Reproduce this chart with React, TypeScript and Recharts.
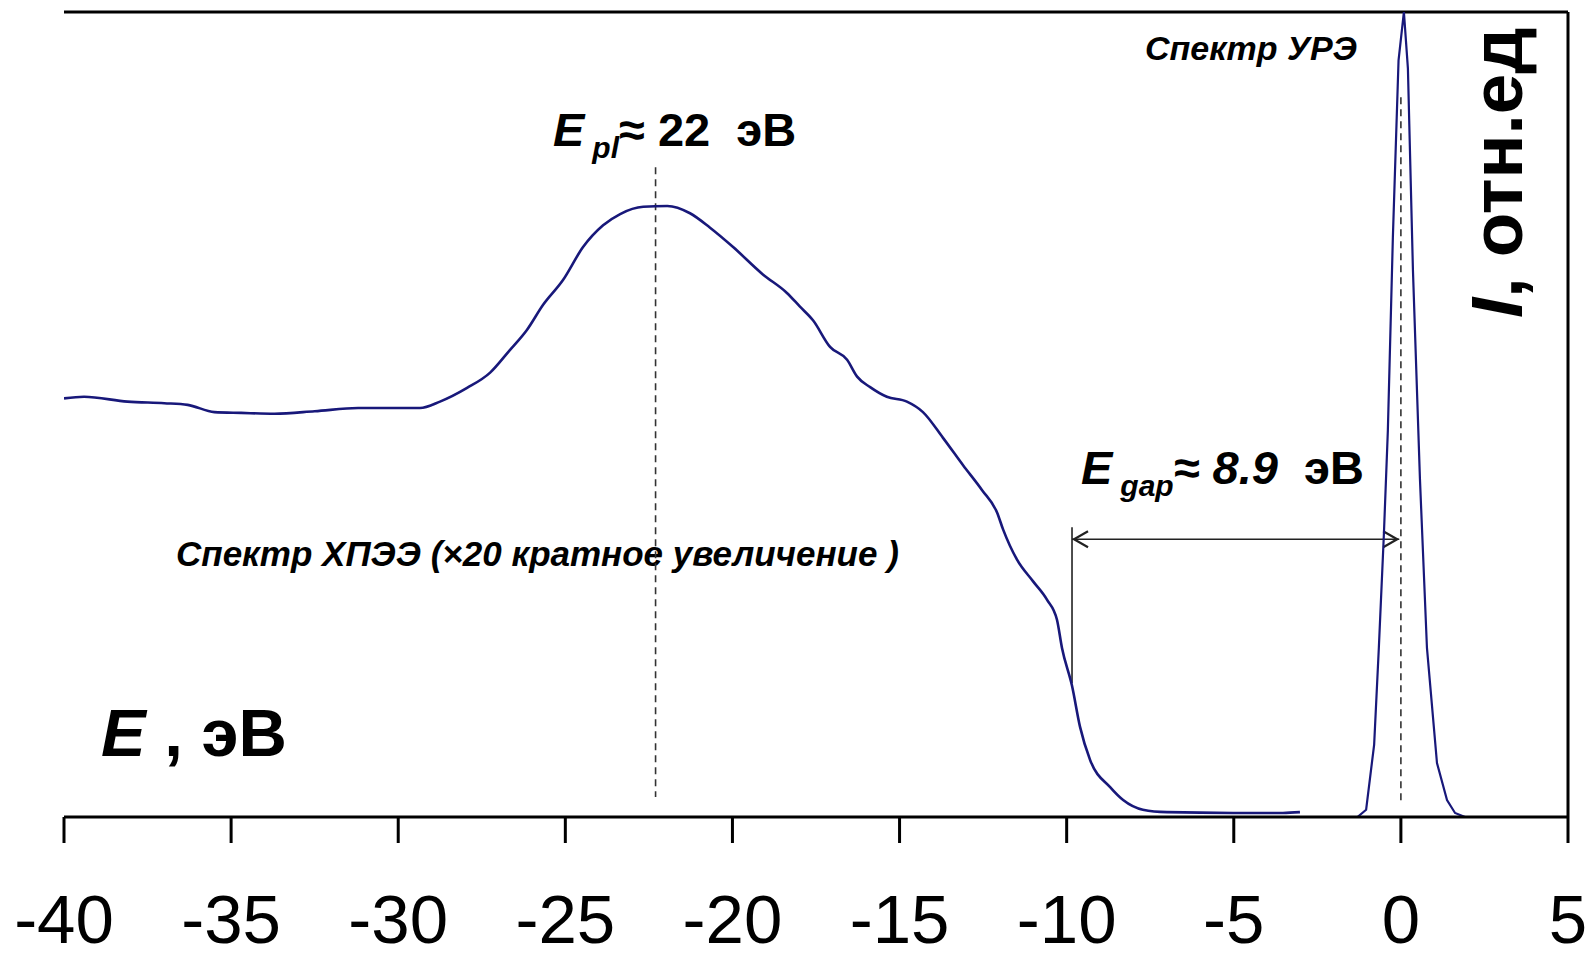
import { LineChart, Line, XAxis, YAxis, ReferenceLine } from 'recharts';

// HREELS spectrum (x20), energy in eV vs relative intensity
const hreelsE = [
  -40, -39.4, -38.1, -37.0, -36.3, -35.5, -34.7, -33.7, -32.5, -31.2, -29.95, -29.35, -28.75,
  -27.94, -27.25, -26.66, -26.15, -25.67, -25.07, -24.47, -23.87, -23.36, -22.67, -21.95, -21.27,
  -20.67, -19.98, -19.09, -18.37, -17.98, -17.59, -17.08, -16.57, -16.27, -15.88, -15.38, -14.78,
  -14.3, -13.7, -13.1, -12.53, -12.08, -11.9, -11.49, -11.01, -10.59, -10.29, -10.14, -9.84, -9.6,
  -9.3, -8.7, -8.31, -7.72, -7.0, -5.02, -3.53, -3.02,
];
const hreelsI = [
  52.0, 52.2, 51.6, 51.4, 51.2, 50.3, 50.2, 50.1, 50.4, 50.8, 50.8, 50.8, 51.6,
  53.3, 55.2, 58.0, 60.5, 63.6, 66.7, 70.8, 73.5, 74.9, 75.8, 75.9, 75.0,
  73.2, 70.8, 67.4, 65.1, 63.4, 61.7, 58.4, 56.8, 54.7, 53.4, 52.2, 51.6,
  50.3, 47.1, 43.7, 40.6, 37.8, 35.7, 32.0, 29.3, 27.0, 24.5, 21.0, 16.3, 11.2,
  7.1, 3.7, 2.1, 0.9, 0.6, 0.5, 0.5, 0.6,
];

// elastic peak (URE spectrum)
const ureE = [-1.3, -1.04, -0.8, -0.66, -0.51, -0.39, -0.24, -0.07, 0.09, 0.21, 0.36, 0.57, 0.78, 1.08, 1.38, 1.62, 1.92, 5];
const ureI = [0, 0.9, 9, 21, 35, 48, 72, 94, 100, 93, 68, 42, 21, 6.7, 2.1, 0.5, 0, 0];

const xTicks = [-40, -35, -30, -25, -20, -15, -10, -5, 0, 5];

// annotation positions (eV / rel. units)
const plasmonE = -22.3;
const gapFrom = -9.84;
const gapTo = -0.05;
const gapY = 34.5;

const hreelsData = hreelsE.map((e, i) => ({ e, v: hreelsI[i] }));
const ureData = ureE.map((e, i) => ({ e, v: ureI[i] }));

const FONT = '"Liberation Sans", Arial, sans-serif';
const NAVY = '#18187a';

const ArrowShape = (props: any) => {
  const { x1, y1, x2, y2 } = props;
  return (
    <g stroke="#222" strokeWidth={1.6} fill="none">
      <line x1={x1} y1={y1} x2={x2} y2={y2} />
      <polyline points={`${x1 + 16},${y1 - 8} ${x1 + 2},${y1} ${x1 + 16},${y1 + 8}`} strokeWidth={2.2} />
      <polyline points={`${x2 - 16},${y2 - 8} ${x2 - 2},${y2} ${x2 - 16},${y2 + 8}`} strokeWidth={2.2} />
    </g>
  );
};

export default function App() {
  return (
    <div style={{ position: 'absolute', left: 0, top: 0, background: '#fff' }}>
      <LineChart width={1591} height={953} margin={{ top: 12, right: 23, left: 64, bottom: 0 }}>
        <XAxis
          type="number"
          dataKey="e"
          domain={[-40, 5]}
          ticks={xTicks}
          height={136}
          tickSize={26}
          tickMargin={51}
          axisLine={{ stroke: '#000', strokeWidth: 3 }}
          tickLine={{ stroke: '#000', strokeWidth: 3 }}
          tick={{ fontSize: 69, fill: '#000', fontFamily: FONT }}
          allowDataOverflow
        />
        <YAxis
          type="number"
          domain={[0, 100]}
          width={0}
          tick={false}
          tickLine={false}
          axisLine={{ stroke: '#000', strokeWidth: 3 }}
          allowDataOverflow
        />

        {/* frame: top and right edges */}
        <ReferenceLine y={100} stroke="#000" strokeWidth={3} />
        <ReferenceLine x={5} stroke="#000" strokeWidth={3} />

        <ReferenceLine
          segment={[{ x: plasmonE, y: 80.7 }, { x: plasmonE, y: 2.5 }]}
          stroke="#333"
          strokeWidth={1.6}
          strokeDasharray="7 5"
        />
        <ReferenceLine
          segment={[{ x: 0, y: 89.4 }, { x: 0, y: 1.8 }]}
          stroke="#333"
          strokeWidth={1.6}
          strokeDasharray="7 5"
        />
        <ReferenceLine
          segment={[{ x: gapFrom, y: 36.0 }, { x: gapFrom, y: 16.6 }]}
          stroke="#222"
          strokeWidth={1.6}
        />
        <ReferenceLine
          segment={[{ x: gapFrom, y: gapY }, { x: gapTo, y: gapY }]}
          shape={ArrowShape}
        />

        <Line data={hreelsData} dataKey="v" type="monotone" stroke={NAVY} strokeWidth={2.6} dot={false} isAnimationActive={false} />
        <Line data={ureData} dataKey="v" type="linear" stroke={NAVY} strokeWidth={2.2} dot={false} isAnimationActive={false} />

        <text x={553} y={146} fontFamily={FONT} fontWeight="bold" fontSize={47} fill="#000" style={{ whiteSpace: 'pre' }}>
          <tspan fontStyle="italic">E</tspan>
          <tspan fontStyle="italic" fontSize={30} dx={8} dy={12}>pl</tspan>
          <tspan dy={-12}>{'≈ 22  эВ'}</tspan>
        </text>
        <text x={1081} y={484} fontFamily={FONT} fontWeight="bold" fontSize={47} fill="#000" style={{ whiteSpace: 'pre' }}>
          <tspan fontStyle="italic">E</tspan>
          <tspan fontStyle="italic" fontSize={30} dx={8} dy={12}>gap</tspan>
          <tspan dy={-12} fontStyle="italic">{'≈ 8.9  '}</tspan>
          <tspan>эВ</tspan>
        </text>
        <text x={176} y={566} fontFamily={FONT} fontWeight="bold" fontStyle="italic" fontSize={35} fill="#000" style={{ whiteSpace: 'pre' }}>
          {'Спектр ХПЭЭ (×20 кратное увеличение )'}
        </text>
        <text x={1145} y={60} fontFamily={FONT} fontWeight="bold" fontStyle="italic" fontSize={34} fill="#000">
          Спектр УРЭ
        </text>
        <text x={101} y={756} fontFamily={FONT} fontWeight="bold" fontSize={67} fill="#000" style={{ whiteSpace: 'pre' }}>
          <tspan fontStyle="italic">E</tspan>
          <tspan>{' , эВ'}</tspan>
        </text>
        <text transform="translate(1522,318) rotate(-90)" fontFamily={FONT} fontWeight="bold" fontSize={73} fill="#000">
          <tspan fontStyle="italic">I</tspan>
          <tspan>, отн.ед</tspan>
        </text>
      </LineChart>
    </div>
  );
}
